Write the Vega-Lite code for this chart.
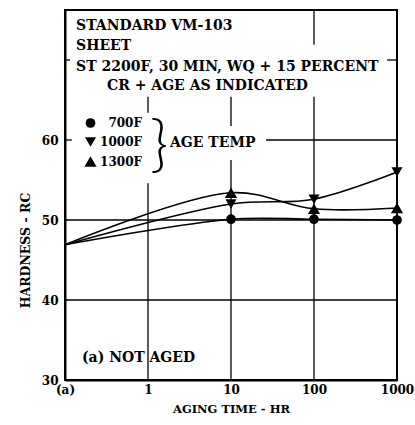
{
  "$schema": "https://vega.github.io/schema/vega-lite/v6.json",
  "autosize": {"type": "none"},
  "padding": {"left": 65, "top": 10, "right": 18, "bottom": 45},
  "width": 332,
  "height": 370,
  "background": "white",
  "config": {
    "view": {"stroke": "black", "strokeWidth": 2},
    "axis": {
      "grid": false, "ticks": false, "domainColor": "black", "domainWidth": 2,
      "labelFont": "DejaVu Serif", "labelFontWeight": "bold", "labelFontSize": 12, "labelColor": "black",
      "titleFont": "DejaVu Serif", "titleFontWeight": "bold", "titleColor": "black"
    },
    "legend": {
      "orient": "none", "legendX": 19, "legendY": 107, "padding": 0,
      "labelFont": "DejaVu Serif", "labelFontWeight": "bold", "labelFontSize": 12, "labelColor": "black",
      "labelAlign": "right", "labelOffset": 45, "rowPadding": 7,
      "symbolFillColor": "black", "symbolStrokeColor": "black", "symbolStrokeWidth": 0
    }
  },
  "datasets": {
    "hardness": [
      {"temp": "700F", "hr": 0.1, "hrc": 46.9},
      {"temp": "700F", "hr": 10, "hrc": 50.1},
      {"temp": "700F", "hr": 100, "hrc": 50.1},
      {"temp": "700F", "hr": 1000, "hrc": 50.0},
      {"temp": "1000F", "hr": 0.1, "hrc": 46.9},
      {"temp": "1000F", "hr": 10, "hrc": 52.0},
      {"temp": "1000F", "hr": 100, "hrc": 52.6},
      {"temp": "1000F", "hr": 1000, "hrc": 56.0},
      {"temp": "1300F", "hr": 0.1, "hrc": 46.9},
      {"temp": "1300F", "hr": 10, "hrc": 53.4},
      {"temp": "1300F", "hr": 100, "hrc": 51.4},
      {"temp": "1300F", "hr": 1000, "hrc": 51.5}
    ],
    "grid": [
      {"x": 1, "x2": 1, "y": 30, "y2": 54.6},
      {"x": 1, "x2": 1, "y": 63.4, "y2": 65.4},
      {"x": 10, "x2": 10, "y": 30, "y2": 57.5},
      {"x": 10, "x2": 10, "y": 61.75, "y2": 65.4},
      {"x": 100, "x2": 100, "y": 30, "y2": 65.4},
      {"x": 100, "x2": 100, "y": 71.9, "y2": 76.25},
      {"x": 0.1, "x2": 1000, "y": 40, "y2": 40},
      {"x": 0.1, "x2": 1000, "y": 50, "y2": 50},
      {"x": 0.1, "x2": 0.121, "y": 60, "y2": 60},
      {"x": 26.5, "x2": 1000, "y": 60, "y2": 60},
      {"x": 0.1, "x2": 0.115, "y": 70, "y2": 70},
      {"x": 760, "x2": 1000, "y": 70, "y2": 70}
    ],
    "notes": [
      {"hr": 0.136, "hrc": 74.25, "text": "STANDARD VM-103"},
      {"hr": 0.136, "hrc": 71.75, "text": "SHEET"},
      {"hr": 0.136, "hrc": 69.1, "text": "ST 2200F, 30 MIN, WQ + 15 PERCENT"},
      {"hr": 0.321, "hrc": 66.75, "text": "CR + AGE AS INDICATED"},
      {"hr": 1.84, "hrc": 59.6, "text": "AGE TEMP"},
      {"hr": 0.16, "hrc": 32.75, "text": "(a) NOT AGED"}
    ],
    "brace": [
      {"hr": 1.36, "hrc": 59.25, "text": "}"}
    ]
  },
  "layer": [
    {
      "data": {"name": "grid"},
      "mark": {"type": "rule", "color": "black", "strokeWidth": 1.3},
      "encoding": {
        "x": {"field": "x", "type": "quantitative", "scale": {"type": "log", "domain": [0.1, 1000], "nice": false}},
        "x2": {"field": "x2"},
        "y": {"field": "y", "type": "quantitative", "scale": {"domain": [30, 76.25], "nice": false, "zero": false}},
        "y2": {"field": "y2"}
      }
    },
    {
      "data": {"name": "hardness"},
      "mark": {"type": "line", "color": "black", "strokeWidth": 1.6, "interpolate": "catmull-rom"},
      "encoding": {
        "x": {
          "field": "hr", "type": "quantitative",
          "scale": {"type": "log", "domain": [0.1, 1000], "nice": false},
          "axis": {
            "values": [0.1, 1, 10, 100, 1000], "format": "d",
            "labelExpr": "datum.value < 0.5 ? '(a)' : datum.label",
            "labelPadding": 4, "labelFlush": false,
            "title": "AGING TIME - HR", "titleFontSize": 11.5, "titlePadding": 8
          }
        },
        "y": {
          "field": "hrc", "type": "quantitative",
          "scale": {"domain": [30, 76.25], "nice": false, "zero": false},
          "axis": {
            "values": [30, 40, 50, 60], "labelPadding": 7,
            "title": "HARDNESS - RC", "titleFontSize": 12.5,
            "titleAngle": 270, "titleAlign": "center", "titleBaseline": "middle",
            "titleX": -40, "titleY": 240
          }
        },
        "detail": {"field": "temp"}
      }
    },
    {
      "data": {"name": "hardness"},
      "transform": [{"filter": "datum.hr > 0.5"}],
      "mark": {"type": "point", "filled": true, "color": "black", "opacity": 1},
      "encoding": {
        "x": {"field": "hr", "type": "quantitative"},
        "y": {"field": "hrc", "type": "quantitative"},
        "shape": {
          "field": "temp", "type": "nominal",
          "scale": {"domain": ["700F", "1000F", "1300F"], "range": ["circle", "triangle-down", "triangle-up"]},
          "legend": {"title": null}
        },
        "size": {
          "field": "temp", "type": "nominal",
          "scale": {"domain": ["700F", "1000F", "1300F"], "range": [95, 150, 150]},
          "legend": {"title": null}
        }
      }
    },
    {
      "data": {"name": "notes"},
      "mark": {"type": "text", "align": "left", "baseline": "middle", "font": "DejaVu Serif", "fontWeight": "bold", "fontSize": 14, "color": "black"},
      "encoding": {
        "x": {"field": "hr", "type": "quantitative"},
        "y": {"field": "hrc", "type": "quantitative"},
        "text": {"field": "text"}
      }
    },
    {
      "data": {"name": "brace"},
      "mark": {"type": "text", "align": "center", "baseline": "middle", "font": "Lato", "fontWeight": 300, "fontSize": 62, "color": "black"},
      "encoding": {
        "x": {"field": "hr", "type": "quantitative"},
        "y": {"field": "hrc", "type": "quantitative"},
        "text": {"field": "text"}
      }
    }
  ]
}
